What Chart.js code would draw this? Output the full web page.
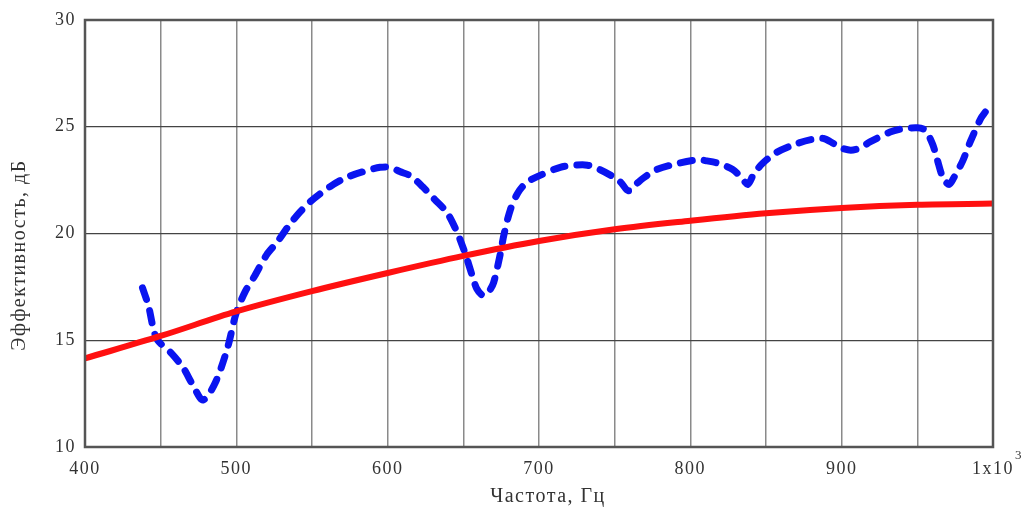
<!DOCTYPE html>
<html>
<head>
<meta charset="utf-8">
<script src="https://cdn.jsdelivr.net/npm/chart.js"></script>
<style>
  html, body { margin: 0; padding: 0; background: #fff; }
  #wrap { width: 1033px; height: 511px; }
</style>
</head>
<body>
<div id="wrap"><canvas id="myChart" width="1033" height="511"></canvas></div>
<script>
// red curve (smooth)
const redX = [400, 450, 500, 550, 600, 650, 700, 750, 800, 850, 900, 950, 1000];
const redY = [14.15, 15.2, 16.35, 17.3, 18.15, 18.95, 19.65, 20.2, 20.6, 20.95, 21.2, 21.35, 21.4];

// blue dashed curve
const blueX = [438, 442, 445, 448, 457, 465, 472, 478, 486, 494, 500, 506, 512, 520, 527, 535, 542, 549,
  562, 572, 584, 595, 602, 608, 615, 623, 631, 639, 645, 649, 652, 656, 659, 663, 667, 670, 674, 677,
  681, 686, 692, 700, 714, 724, 732, 740, 748, 754, 759, 764, 769, 778, 793, 805, 811, 818, 828, 834,
  838, 842, 848, 857, 870, 880, 888, 895, 900, 906, 912, 919, 932, 940, 950, 955, 960, 963, 967, 971,
  974, 980, 985, 992, 995];
const blueY = [17.45, 16.6, 15.6, 15.0, 14.4, 13.7, 12.8, 12.2, 13.0, 14.6, 16.3, 17.3, 18.0, 19.0, 19.6, 20.4, 21.0, 21.5,
  22.2, 22.6, 22.9, 23.1, 23.1, 22.9, 22.7, 22.2, 21.6, 21.0, 20.2, 19.5, 18.9, 18.0, 17.4, 17.1, 17.3, 17.7, 18.9, 20.0,
  21.1, 21.9, 22.4, 22.7, 23.1, 23.2, 23.2, 23.0, 22.7, 22.4, 22.0, 22.3, 22.6, 23.0, 23.3, 23.45, 23.4, 23.3, 23.0, 22.6,
  22.3, 22.8, 23.3, 23.8, 24.2, 24.4, 24.45, 24.2, 24.0, 23.9, 24.0, 24.3, 24.75, 24.9, 24.95, 24.85, 24.2, 23.5, 22.6, 22.3,
  22.6, 23.4, 24.3, 25.4, 25.7];

const xLabels = { 400: '400', 500: '500', 600: '600', 700: '700', 800: '800', 900: '900', 1000: '1x10' };
const xTitle = 'Частота, Гц';
const yTitle = 'Эффективность, дБ';

const serif = '"Liberation Serif", "DejaVu Serif", serif';

// the scanned labels are spaced out a bit
const spacingPlugin = {
  id: 'spacing',
  beforeUpdate(chart) { chart.ctx.letterSpacing = '1.5px'; },
  beforeDraw(chart) { chart.ctx.letterSpacing = '1.5px'; }
};

// frame, axis titles (off-centre in the original), superscript of "1x10^3"
const framePlugin = {
  id: 'frame',
  afterDraw(chart) {
    const { ctx, chartArea: a } = chart;
    ctx.save();
    ctx.strokeStyle = '#555';
    ctx.lineWidth = 2.5;
    ctx.strokeRect(a.left, a.top, a.right - a.left, a.bottom - a.top);

    ctx.fillStyle = '#333';
    ctx.letterSpacing = '1.5px';
    ctx.textAlign = 'center';
    ctx.textBaseline = 'middle';
    ctx.font = '20px ' + serif;
    ctx.fillText(xTitle, 548, 497);
    ctx.save();
    ctx.translate(20, 255);
    ctx.rotate(-Math.PI / 2);
    ctx.fillText(yTitle, 0, 0);
    ctx.restore();

    const px = chart.scales.x.getPixelForValue(1000);
    ctx.font = '18px ' + serif;
    const w = ctx.measureText('1x10').width;
    ctx.textAlign = 'left';
    ctx.font = '13px ' + serif;
    ctx.fillText('3', px + w / 2 + 1, a.bottom + 9);
    ctx.restore();
  }
};

const ctx = document.getElementById('myChart').getContext('2d');
new Chart(ctx, {
  type: 'line',
  data: {
    datasets: [
      {
        data: redX.map((x, i) => ({ x: x, y: redY[i] })),
        borderColor: '#ff1010',
        borderWidth: 6,
        pointRadius: 0,
        tension: 0.4,
        cubicInterpolationMode: 'monotone'
      },
      {
        data: blueX.map((x, i) => ({ x: x, y: blueY[i] })),
        borderColor: '#0a14f0',
        borderWidth: 7,
        borderDash: [12, 12],
        borderCapStyle: 'round',
        pointRadius: 0,
        tension: 0.3
      }
    ]
  },
  options: {
    responsive: false,
    animation: false,
    layout: { padding: { left: 0, right: 40, top: 20, bottom: 0 } },
    plugins: { legend: { display: false }, tooltip: { enabled: false } },
    scales: {
      x: {
        type: 'linear',
        min: 400, max: 1000,
        afterFit(s) { s.height = 64; },
        grid: { color: '#8a8a8a', lineWidth: 1.5, drawTicks: false },
        border: { display: false },
        ticks: {
          stepSize: 50,
          autoSkip: false,
          maxRotation: 0,
          padding: 11,
          color: '#333',
          font: { family: serif, size: 18 },
          callback: v => xLabels[v] || ''
        }
      },
      y: {
        min: 10, max: 30,
        afterFit(s) { s.width = 85; },
        grid: { color: '#444', lineWidth: 1.2, drawTicks: false },
        border: { display: false },
        ticks: {
          stepSize: 5,
          padding: 9,
          color: '#333',
          font: { family: serif, size: 18 }
        }
      }
    }
  },
  plugins: [spacingPlugin, framePlugin]
});
</script>
</body>
</html>
